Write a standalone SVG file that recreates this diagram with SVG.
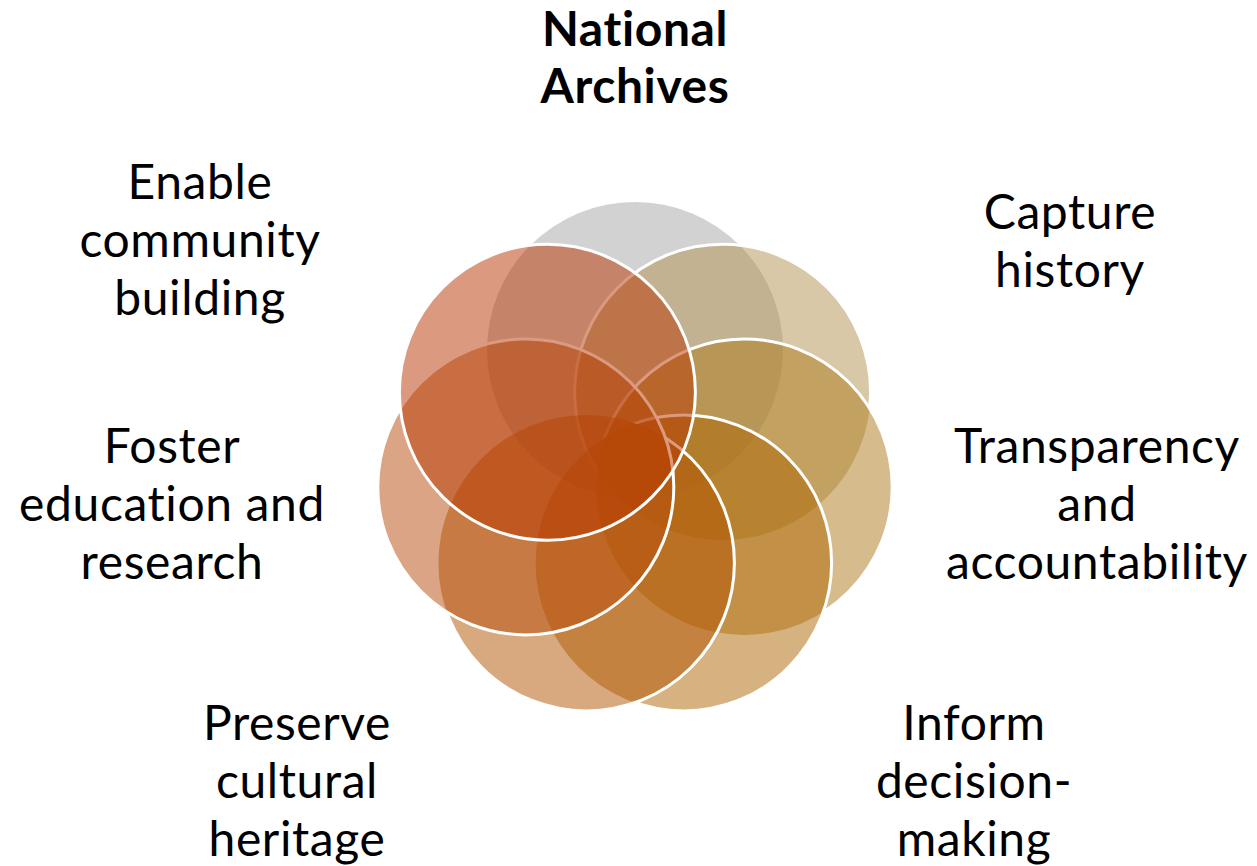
<svg xmlns="http://www.w3.org/2000/svg" width="1257" height="866" viewBox="0 0 1257 866">
  <style>
    .disc { fill-opacity: 0.5; stroke: none; }
    .ring { fill: none; stroke: #FFFFFF; stroke-width: 3; }
    .lbl { font-family: Lato, "Liberation Sans", sans-serif; font-size: 48px; letter-spacing: 0.6px; fill: #000000; text-anchor: middle; font-variant-ligatures: none; font-feature-settings: "liga" 0, "clig" 0; }
    .title { font-weight: bold; }
  </style>
  <defs>
    <mask id="m3" maskUnits="userSpaceOnUse" x="0" y="0" width="1257" height="866">
      <rect x="0" y="0" width="1257" height="866" fill="#fff"/>
      <circle cx="744.2" cy="486.9" r="148" fill="#000"/>
    </mask>
    <mask id="m4" maskUnits="userSpaceOnUse" x="0" y="0" width="1257" height="866">
      <rect x="0" y="0" width="1257" height="866" fill="#fff"/>
      <circle cx="683.6" cy="562.9" r="148" fill="#000"/>
    </mask>
    <mask id="m5" maskUnits="userSpaceOnUse" x="0" y="0" width="1257" height="866">
      <rect x="0" y="0" width="1257" height="866" fill="#fff"/>
      <circle cx="586.4" cy="562.9" r="148" fill="#000"/>
    </mask>
    <mask id="m6" maskUnits="userSpaceOnUse" x="0" y="0" width="1257" height="866">
      <rect x="0" y="0" width="1257" height="866" fill="#fff"/>
      <circle cx="525.8" cy="486.9" r="148" fill="#000"/>
    </mask>
  </defs>
  <rect x="0" y="0" width="1257" height="866" fill="#FFFFFF"/>

  <g id="node1">
    <circle class="disc" cx="635" cy="350" r="148" fill="#A5A5A5"/>
    <text class="lbl title" x="635" y="46">National</text>
    <text class="lbl title" x="635" y="103">Archives</text>
  </g>
  <g id="node2">
    <circle class="disc" cx="722.6" cy="392.2" r="148" fill="#B19151"/>
    <circle class="ring" cx="722.6" cy="392.2" r="148" mask="url(#m3)"/>
    <text class="lbl" x="1070" y="229">Capture</text>
    <text class="lbl" x="1070" y="287">history</text>
  </g>
  <g id="node3">
    <circle class="disc" cx="744.2" cy="486.9" r="148" fill="#AD7919"/>
    <circle class="ring" cx="744.2" cy="486.9" r="148" mask="url(#m4)"/>
    <text class="lbl" x="1097" y="463">Transparency</text>
    <text class="lbl" x="1097" y="521">and</text>
    <text class="lbl" x="1097" y="579">accountability</text>
  </g>
  <g id="node4">
    <circle class="disc" cx="683.6" cy="562.9" r="148" fill="#AD6501"/>
    <circle class="ring" cx="683.6" cy="562.9" r="148" mask="url(#m5)"/>
    <text class="lbl" x="974" y="740">Inform</text>
    <text class="lbl" x="974" y="798">decision-</text>
    <text class="lbl" x="974" y="856">making</text>
  </g>
  <g id="node5">
    <circle class="disc" cx="586.4" cy="562.9" r="148" fill="#B15100"/>
    <circle class="ring" cx="586.4" cy="562.9" r="148" mask="url(#m6)"/>
    <text class="lbl" x="297" y="740">Preserve</text>
    <text class="lbl" x="297" y="798">cultural</text>
    <text class="lbl" x="297" y="856">heritage</text>
  </g>
  <g id="node6">
    <circle class="disc" cx="525.8" cy="486.9" r="148" fill="#B74B0B"/>
    <circle class="ring" cx="525.8" cy="486.9" r="148"/>
    <text class="lbl" x="172" y="463">Foster</text>
    <text class="lbl" x="172" y="521">education and</text>
    <text class="lbl" x="172" y="579">research</text>
  </g>
  <g id="node7">
    <circle class="disc" cx="547.4" cy="392.2" r="148" fill="#B73500"/>
    <circle class="ring" cx="547.4" cy="392.2" r="148"/>
    <text class="lbl" x="200" y="199">Enable</text>
    <text class="lbl" x="200" y="257">community</text>
    <text class="lbl" x="200" y="315">building</text>
  </g>
</svg>
